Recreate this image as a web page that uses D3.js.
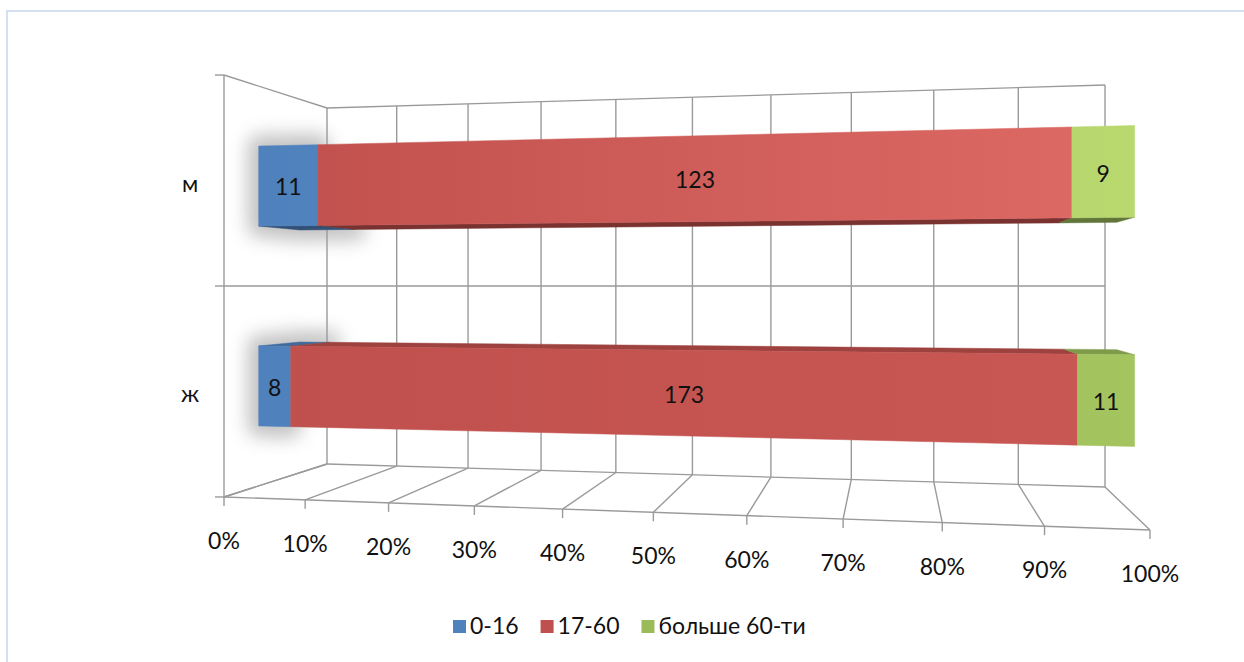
<!DOCTYPE html>
<html><head><meta charset="utf-8">
<script src="https://cdn.jsdelivr.net/npm/d3@7"></script>
<style>
html,body{margin:0;padding:0;background:#fff;}
svg{display:block;font-family:Lato,"Open Sans",sans-serif;}
</style>
</head><body>
<svg id="chart" width="1244" height="662"></svg>
<script>
// ---- data ----
const categories = ["м", "ж"];
const seriesNames = ["0-16", "17-60", "больше 60-ти"];
const series0_16 = [11, 8];
const series17_60 = [123, 173];
const series60plus = [9, 11];
const tickValues = [0, 0.1, 0.2, 0.3, 0.4, 0.5, 0.6, 0.7, 0.8, 0.9, 1];
const tickLabels = ["0%", "10%", "20%", "30%", "40%", "50%", "60%", "70%", "80%", "90%", "100%"];

// ---- styles ----
const seriesColors = ["#4f81bd", "#c0504d", "#9bbb59"];
const seriesLight = ["#5d90cd", "#de6a65", "#b9d96f"];
const barLightness = {"м": 1, "ж": 0.3};
const gridColor = "#9a9a9a";

const svg = d3.select("#chart");
const defs = svg.append("defs");
defs.append("filter").attr("id", "blur")
  .attr("x", "-80%").attr("y", "-80%").attr("width", "260%").attr("height", "260%")
  .append("feGaussianBlur").attr("stdDeviation", 9);

// frame
svg.append("path").attr("d", "M7,662V11H1244").attr("fill", "none")
  .attr("stroke", "#d5def2").attr("stroke-width", 2);

// ---- perspective camera ----
const cam = {cx: 727, cy: 286, f: 1000};
const box = {FL: [-1.1921, 2.370], FR: [0.8667, 2.049], BL: [-1.1236, 2.809], BR: [0.9405, 2.488]};
function P(u, Y, w) {
  const fx = box.FL[0] + (box.FR[0] - box.FL[0]) * u;
  const fz = box.FL[1] + (box.FR[1] - box.FL[1]) * u;
  const bx = box.BL[0] + (box.BR[0] - box.BL[0]) * u;
  const bz = box.BL[1] + (box.BR[1] - box.BL[1]) * u;
  const X = fx + (bx - fx) * w, Z = fz + (bz - fz) * w;
  return [cam.cx + cam.f * X / Z, cam.cy - cam.f * Y / Z];
}

// ---- scales ----
const x = d3.scaleLinear().domain([0, 1]).range([0, 1]);
const y = d3.scalePoint().domain(["ж", "м"]).range([-0.5, 0.5]).padding(0.5);
const yLevels = [-0.5, 0, 0.5];
const barHalf = 0.1, wFront = 0.3, wBack = 0.7;
const line = d3.line();

// ---- walls and grid ----
const grid = svg.append("g").attr("fill", "none").attr("stroke", gridColor).attr("stroke-width", 1.4);
tickValues.forEach(t => {
  grid.append("path").attr("d", line([P(x(t), -0.5, 1), P(x(t), 0.5, 1)]));
  grid.append("path").attr("d", line([P(x(t), -0.5, 0), P(x(t), -0.5, 1)]));
  const p = P(x(t), -0.5, 0);
  grid.append("path").attr("d", line([p, [p[0], p[1] + 9]]));
});
yLevels.forEach(Y => {
  grid.append("path").attr("d", line([P(0, Y, 1), P(1, Y, 1)]));
  grid.append("path").attr("d", line([P(0, Y, 0), P(0, Y, 1)]));
  const p = P(0, Y, 0);
  grid.append("path").attr("d", line([[p[0] - 9, p[1]], p]));
});
grid.append("path").attr("d", line([P(0, -0.5, 0), P(0, 0.5, 0)]));
grid.append("path").attr("d", line([P(0, -0.5, 0), P(1, -0.5, 0)]));

// tick labels
svg.append("g").selectAll("text").data(tickValues).join("text")
  .attr("x", t => P(x(t), -0.5, 0)[0])
  .attr("y", t => P(x(t), -0.5, 0)[1] + 52)
  .attr("text-anchor", "middle").attr("font-size", 23).attr("fill", "#111")
  .text((t, i) => tickLabels[i]);

// category labels
svg.append("g").selectAll("text").data(categories).join("text")
  .attr("x", c => P(0, y(c), 0)[0] - 34)
  .attr("y", c => P(0, y(c), 0)[1] + 11)
  .attr("text-anchor", "middle").attr("font-size", 23).attr("fill", "#111")
  .text(c => c);

// ---- stacked data ----
const rows = categories.map((c, i) => ({cat: c, "0-16": series0_16[i], "17-60": series17_60[i], "больше 60-ти": series60plus[i]}));
const stacked = d3.stack().keys(seriesNames).offset(d3.stackOffsetExpand)(rows);

// gradients
categories.forEach((c, ci) => {
  const Yc = y(c);
  const x1 = P(x(0), Yc, wFront)[0], x2 = P(x(1), Yc, wFront)[0];
  seriesNames.forEach((s, si) => {
    const g = defs.append("linearGradient").attr("id", `g${ci}_${si}`)
      .attr("gradientUnits", "userSpaceOnUse").attr("x1", x1).attr("x2", x2).attr("y1", 0).attr("y2", 0);
    const mix = d3.interpolateRgb(seriesColors[si], seriesLight[si]);
    g.append("stop").attr("offset", 0).attr("stop-color", mix(0));
    g.append("stop").attr("offset", 1).attr("stop-color", mix(barLightness[c]));
  });
});

const bars = svg.append("g");
categories.forEach((c, ci) => {
  const Yc = y(c), Yt = Yc + barHalf, Yb = Yc - barHalf;
  const blue = stacked[0][ci];
  // soft shadow around the first segment
  const u0 = x(blue[0]), u1 = x(blue[1]);
  const shadowPts = Yb > 0
    ? [P(u0, Yt, wFront), P(u1, Yt, wFront), P(u1, Yb, wFront), P(u1, Yb, wBack), P(u0, Yb, wBack), P(u0, Yb, wFront)]
    : [P(u0, Yb, wFront), P(u1, Yb, wFront), P(u1, Yt, wFront), P(u1, Yt, wBack), P(u0, Yt, wBack), P(u0, Yt, wFront)];
  bars.append("path").attr("d", line(shadowPts) + "Z")
    .attr("fill", "#9a9a9a").attr("stroke", "#9a9a9a").attr("stroke-width", 22)
    .attr("stroke-linejoin", "round").attr("opacity", 0.6).attr("filter", "url(#blur)");

  // side faces (bottom if above eye level, top if below)
  const faceY = Yb > 0 ? Yb : Yt;
  const darkK = Yb > 0 ? 1.3 : 0.55;
  stacked.forEach((s, si) => {
    const a = x(s[ci][0]), b = x(s[ci][1]);
    bars.append("path")
      .attr("d", line([P(a, faceY, wFront), P(b, faceY, wFront), P(b, faceY, wBack), P(a, faceY, wBack)]) + "Z")
      .attr("fill", d3.color(seriesColors[si]).darker(darkK))
      .attr("stroke", d3.color(seriesColors[si]).darker(darkK)).attr("stroke-width", 0.5);
  });
  // front faces
  stacked.forEach((s, si) => {
    const a = x(s[ci][0]), b = x(s[ci][1]);
    bars.append("path")
      .attr("d", line([P(a, Yt, wFront), P(b, Yt, wFront), P(b, Yb, wFront), P(a, Yb, wFront)]) + "Z")
      .attr("fill", `url(#g${ci}_${si})`)
      .attr("stroke", `url(#g${ci}_${si})`).attr("stroke-width", 0.5);
  });
  // data labels
  stacked.forEach((s, si) => {
    const a = x(s[ci][0]), b = x(s[ci][1]);
    const pts = [P(a, Yt, wFront), P(b, Yt, wFront), P(b, Yb, wFront), P(a, Yb, wFront)];
    const mx = d3.mean(pts, p => p[0]), my = d3.mean(pts, p => p[1]);
    bars.append("text").attr("x", mx).attr("y", my).attr("dy", "0.42em")
      .attr("text-anchor", "middle").attr("font-size", 23).attr("fill", "#111")
      .text(rows[ci][s.key]);
  });
});

// ---- legend ----
const legend = svg.append("g");
let lx = 0;
seriesNames.forEach((s, si) => {
  const g = legend.append("g").attr("transform", `translate(${lx},0)`);
  g.append("rect").attr("x", 0).attr("y", 620).attr("width", 13).attr("height", 13).attr("fill", seriesColors[si]);
  const t = g.append("text").attr("x", 17).attr("y", 634).attr("font-size", 23).attr("fill", "#111").text(s);
  lx += 17 + t.node().getComputedTextLength() + 22;
});
const lw = lx - 22;
legend.attr("transform", `translate(${453},0)`);
</script>
</body></html>
